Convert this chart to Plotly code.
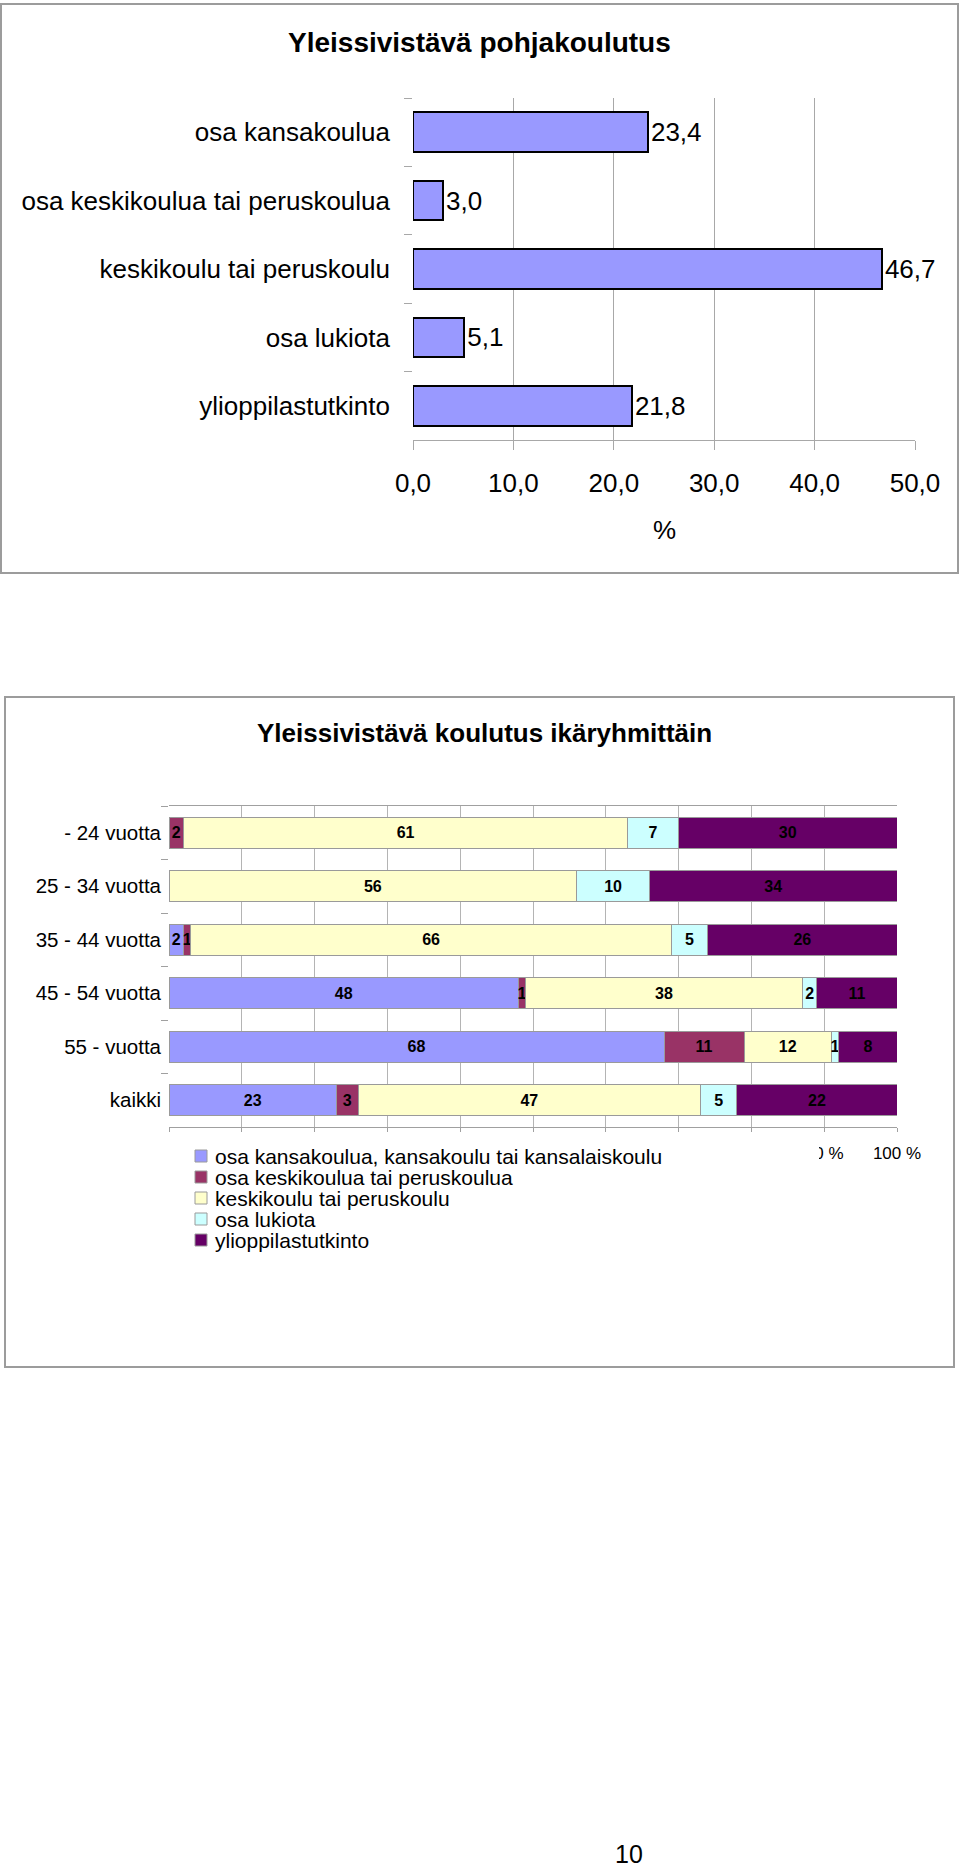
import plotly.graph_objects as go

# ---------------- data ----------------
top_categories = ["osa kansakoulua", "osa keskikoulua tai peruskoulua",
                  "keskikoulu tai peruskoulu", "osa lukiota", "ylioppilastutkinto"]
top_values = [23.4, 3.0, 46.7, 5.1, 21.8]
top_ticks = [0, 10, 20, 30, 40, 50]

age_groups = ["- 24 vuotta", "25 - 34 vuotta", "35 - 44 vuotta",
              "45 - 54 vuotta", "55 - vuotta", "kaikki"]
series_names = ["osa kansakoulua, kansakoulu tai kansalaiskoulu",
                "osa keskikoulua tai peruskoulua",
                "keskikoulu tai peruskoulu",
                "osa lukiota",
                "ylioppilastutkinto"]
s_kansakoulu = [0, 0, 2, 48, 68, 23]
s_osa_keski = [2, 0, 1, 1, 11, 3]
s_keskikoulu = [61, 56, 66, 38, 12, 47]
s_osa_lukio = [7, 10, 5, 2, 1, 5]
s_ylioppilas = [30, 34, 26, 11, 8, 22]
series_values = [s_kansakoulu, s_osa_keski, s_keskikoulu, s_osa_lukio, s_ylioppilas]
series_colors = ["#9999FF", "#993366", "#FFFFCC", "#CCFFFF", "#660066"]
pct_ticks = [0, 10, 20, 30, 40, 50, 60, 70, 80, 90, 100]
pct_labels = [f"{v} %" for v in pct_ticks]
# in the original, the legend box hides the labels 0 % ... 80 %
pct_visible = [False, False, False, False, False, False, False, False, False, True, True]

title_top = "Yleissivistävä pohjakoulutus"
title_bottom = "Yleissivistävä koulutus ikäryhmittäin"
page_number = "10"

# ---------------- helpers ----------------
W, H = 960, 1870
FONT = "Liberation Sans, Arial, Helvetica, sans-serif"


def px(x):
    return x / W


def py(y):
    return 1 - y / H


fig = go.Figure()

# top chart
fig.add_trace(go.Bar(
    x=top_values, y=top_categories, orientation="h",
    marker=dict(color="#9999FF", line=dict(color="#000000", width=2)),
    width=0.58,
    texttemplate="%{x:.1f}", textposition="outside", cliponaxis=False,
    constraintext="none",
    textfont=dict(size=26, color="#000000", family=FONT),
    xaxis="x", yaxis="y", showlegend=False, hoverinfo="skip",
))

# bottom chart (stacked)
for name, vals, col in zip(series_names, series_values, series_colors):
    fig.add_trace(go.Bar(
        x=vals, y=age_groups, orientation="h", name=name,
        marker=dict(color=col, line=dict(color="#9a9a9a", width=1)),
        width=0.58,
        text=[str(v) if v else "" for v in vals],
        textposition="inside", insidetextanchor="middle", textangle=0,
        constraintext="none",
        insidetextfont=dict(size=16, color="#000000", family=FONT, weight="bold"),
        xaxis="x2", yaxis="y2", showlegend=False, hoverinfo="skip",
    ))

shapes = []
# chart frames
shapes.append(dict(type="rect", xref="paper", yref="paper",
                   x0=px(1), x1=px(958), y0=py(573), y1=py(4),
                   line=dict(color="#9c9c9c", width=2), layer="below"))
shapes.append(dict(type="rect", xref="paper", yref="paper",
                   x0=px(5), x1=px(954), y0=py(1367), y1=py(697),
                   line=dict(color="#9c9c9c", width=2), layer="below"))
# legend background (covers part of the axis labels beneath it, as in the original)
shapes.append(dict(type="rect", xref="paper", yref="paper",
                   x0=px(140), x1=px(819), y0=py(1262), y1=py(1137),
                   fillcolor="#FFFFFF", line=dict(width=0), layer="above"))

annotations = [
    dict(text=f"<b>{title_top}</b>", x=px(479), y=py(42),
         font=dict(size=28, color="#000000", family=FONT)),
    dict(text="%", x=px(664), y=py(530),
         font=dict(size=26, color="#000000", family=FONT)),
    dict(text=f"<b>{title_bottom}</b>", x=px(484), y=py(733),
         font=dict(size=26, color="#000000", family=FONT)),
    dict(text=page_number, x=px(629), y=py(1854),
         font=dict(size=25, color="#000000", family=FONT)),
]
for a in annotations:
    a.update(xref="paper", yref="paper", xanchor="center", yanchor="middle",
             showarrow=False)

# custom legend
for i, (name, col) in enumerate(zip(series_names, series_colors)):
    yc = 1156 + 21 * i
    shapes.append(dict(type="rect", xref="paper", yref="paper",
                       x0=px(195), x1=px(207), y0=py(yc + 6), y1=py(yc - 6),
                       fillcolor=col, line=dict(color="#9a9a9a", width=1), layer="above"))
    annotations.append(dict(text=name, x=px(213), y=py(yc), xref="paper", yref="paper",
                            xanchor="left", yanchor="middle", showarrow=False,
                            font=dict(size=21, color="#000000", family=FONT)))

fig.update_layout(
    width=W, height=H, margin=dict(l=0, r=0, t=0, b=0, autoexpand=False),
    paper_bgcolor="#FFFFFF", plot_bgcolor="#FFFFFF",
    barmode="stack", separators=", ",
    font=dict(family=FONT, color="#000000"),
    xaxis=dict(domain=[px(413), px(915)], anchor="y", range=[0, 50],
               tickvals=top_ticks, tickformat=".1f",
               showgrid=True, gridcolor="#a8a8a8", gridwidth=1,
               showline=True, linecolor="#a8a8a8", linewidth=1,
               ticks="outside", ticklen=9, tickcolor="#a8a8a8",
               ticklabelstandoff=11,
               tickfont=dict(size=26, color="#000000", family=FONT),
               zeroline=False, fixedrange=True, automargin=False),
    yaxis=dict(domain=[py(440), py(98)], anchor="x", autorange="reversed",
               type="category", tickson="boundaries",
               ticks="outside", ticklen=8, tickcolor="#a8a8a8",
               ticklabelstandoff=22,
               showline=False, showgrid=False,
               tickfont=dict(size=26, color="#000000", family=FONT),
               fixedrange=True, automargin=False),
    xaxis2=dict(domain=[px(169), px(897)], anchor="y2", range=[0, 100],
                tickvals=pct_ticks,
                ticktext=[t if v else "" for t, v in zip(pct_labels, pct_visible)],
                showgrid=True, gridcolor="#b4b4b4", gridwidth=1,
                showline=True, mirror=True, linecolor="#a0a0a0", linewidth=1,
                ticks="outside", ticklen=4, tickcolor="#a0a0a0",
                ticklabelstandoff=7,
                tickfont=dict(size=17, color="#000000", family=FONT),
                zeroline=False, fixedrange=True, automargin=False),
    yaxis2=dict(domain=[py(1127), py(806)], anchor="x2", autorange="reversed",
                type="category", tickson="boundaries",
                ticks="outside", ticklen=7, tickcolor="#a0a0a0",
                ticklabelstandoff=7,
                showline=False, showgrid=False,
                tickfont=dict(size=20.5, color="#000000", family=FONT),
                fixedrange=True, automargin=False),
    shapes=shapes, annotations=annotations,
)

fig.write_html("out.html",
               config={"displayModeBar": False},
               post_script="document.body.style.margin='0';")
